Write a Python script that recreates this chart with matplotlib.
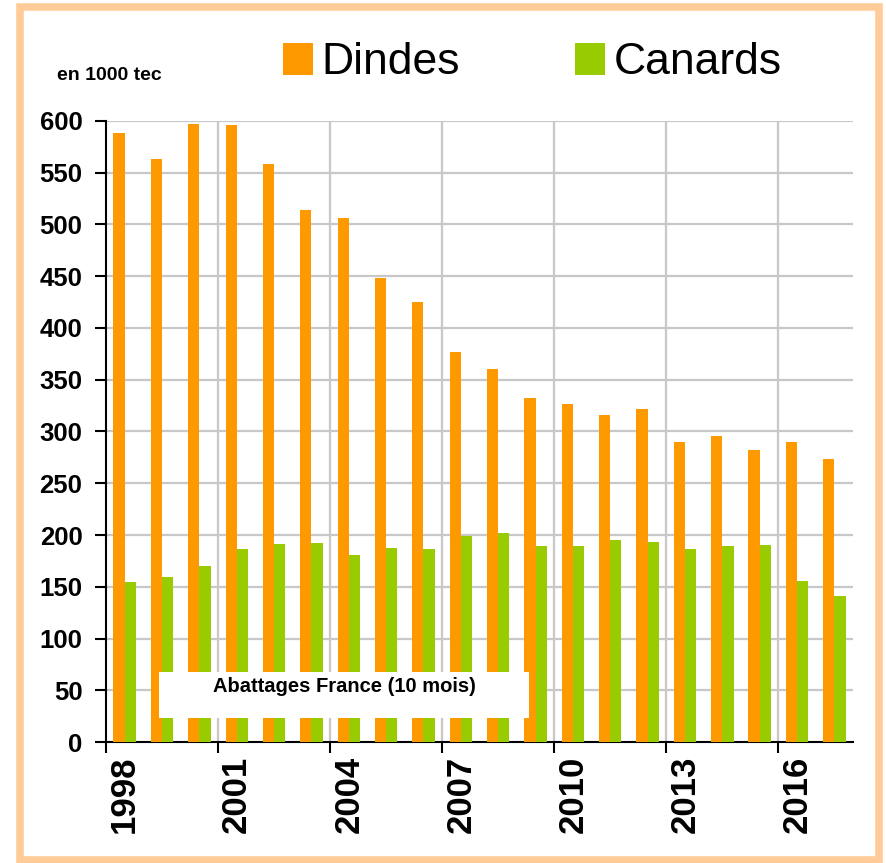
import matplotlib.pyplot as plt
from matplotlib.patches import Rectangle
import numpy as np

plt.rcParams['font.family'] = ['Liberation Sans', 'DejaVu Sans']

years = list(range(1998, 2018))
dindes = [588, 563, 597, 596, 558, 514, 506, 448, 425, 377,
          360, 332, 327, 316, 322, 290, 296, 282, 290, 273]
canards = [155, 159, 170, 186, 191, 192, 181, 187, 186, 199,
           202, 189, 189, 195, 193, 186, 189, 190, 156, 141]

orange = '#FF9900'
green = '#99CC00'

fig = plt.figure(figsize=(8.87, 8.63), dpi=100)
ax = fig.add_axes([0.1195, 0.1402, 0.8422, 0.7196])

x = np.arange(len(years))
w = 0.30
ax.bar(x - w / 2, dindes, w, color=orange, label='Dindes', zorder=3)
ax.bar(x + w / 2, canards, w, color=green, label='Canards', zorder=3)

ax.set_xlim(-0.5, len(years) - 0.5)
ax.set_ylim(0, 600)
ax.set_yticks(range(0, 601, 50))
ax.set_yticklabels([str(v) for v in range(0, 601, 50)], fontsize=18.5, fontweight='bold')

# tick marks sit between categories, labels sit on every third year
bounds = np.arange(-0.5, len(years) - 0.5, 3)
ax.set_xticks(bounds)
ax.set_xticklabels([])
ax.set_xticks(x[::3], minor=True)
ax.set_xticklabels([str(y) for y in years[::3]], minor=True,
                   rotation=90, fontsize=25, fontweight='bold')
ax.tick_params(axis='x', which='major', direction='out', length=8, width=1.5)
ax.tick_params(axis='x', which='minor', length=0, pad=10)
ax.tick_params(axis='y', direction='out', length=8, width=1.5, pad=9)

for yv in range(50, 601, 50):
    ax.axhline(yv, color='#c8c8c8', lw=1.6, zorder=1)
for bx in bounds[1:]:
    ax.axvline(bx, color='#c8c8c8', lw=1.6, zorder=1)

for side in ['top', 'right']:
    ax.spines[side].set_visible(False)
for side in ['left', 'bottom']:
    ax.spines[side].set_linewidth(1.5)
    ax.spines[side].set_color('black')

fig.legend(loc='center', bbox_to_anchor=(0.6, 0.927), ncol=2, frameon=False,
           fontsize=32, handlelength=0.68, handleheight=0.72,
           handletextpad=0.18, columnspacing=2.6, borderaxespad=0)

fig.text(0.0643, 0.913, 'en 1000 tec', fontsize=14, fontweight='bold',
         ha='left', va='center')

# white label box laid over the bars
fig.patches.append(Rectangle((0.1793, 0.168), 0.4171, 0.0533, transform=fig.transFigure,
                             facecolor='white', edgecolor='none', zorder=5))
fig.text(0.388, 0.204, 'Abattages France (10 mois)', fontsize=14.5, fontweight='bold',
         ha='center', va='center', zorder=6)

# peach frame around the figure
fig.patches.append(Rectangle((0.0225, 0.0035), 0.969, 0.9885, transform=fig.transFigure,
                             facecolor='none', edgecolor='#FFCC99', lw=5.5, zorder=10))

fig.savefig('out.png', dpi=100)
